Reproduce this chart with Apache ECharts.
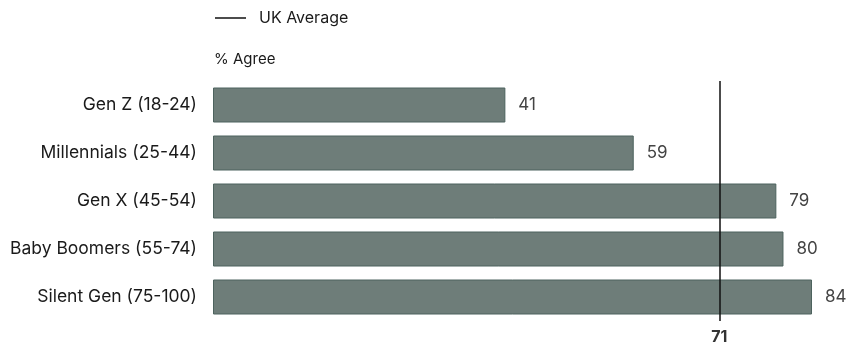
<!DOCTYPE html>
<html><head><meta charset="utf-8">
<script src="https://cdn.jsdelivr.net/npm/echarts@6/dist/echarts.min.js"></script>
<style>html,body{margin:0;padding:0;background:#fff}#c{width:848px;height:346px}</style>
</head><body><div id="c"></div>
<script>
const categories = ["Gen Z (18-24)", "Millennials (25-44)", "Gen X (45-54)", "Baby Boomers (55-74)", "Silent Gen (75-100)"];
const agreeValues = [41, 59, 79, 80, 84];
const ukAverage = 71;
const axisTickLabels = [71];

const FONT = 'Inter, "Noto Sans", sans-serif';
const chart = echarts.init(document.getElementById('c'));
chart.setOption({
  animation: false,
  textStyle: { fontFamily: FONT },
  title: {
    text: '% Agree', left: 209, top: 47,
    textStyle: { fontFamily: FONT, fontSize: 15, fontWeight: 'normal', color: '#1a1a1a' }
  },
  legend: {
    left: 215, top: 10, padding: 0, itemWidth: 31, itemHeight: 1.5, itemGap: 10,
    data: [{ name: 'UK Average', icon: 'rect' }],
    textStyle: { fontFamily: FONT, fontSize: 16, color: '#1a1a1a', padding: [0,0,0,8] }
  },
  grid: { left: 213, right: 36, top: 81, bottom: 25, containLabel: false },
  xAxis: {
    type: 'value', min: 0, max: 84,
    splitLine: { show: false }, axisLine: { show: false }, axisTick: { show: false },
    axisLabel: {
      customValues: axisTickLabels, margin: 8,
      fontFamily: FONT, fontSize: 16, fontWeight: 'bold', color: '#333'
    }
  },
  yAxis: {
    type: 'category', data: categories, inverse: true,
    axisLine: { show: false }, axisTick: { show: false },
    axisLabel: { margin: 16, fontFamily: FONT, fontSize: 17.5, color: '#1a1a1a' }
  },
  series: [
    {
      name: '% Agree', type: 'bar', data: agreeValues, barWidth: 35,
      itemStyle: { color: '#6e7d79', borderColor: '#4d635e', borderWidth: 1 },
      label: { show: true, position: 'right', distance: 13, fontFamily: FONT, fontSize: 17, color: '#444' },
      z: 2
    },
    {
      name: 'UK Average', type: 'line', data: [], symbol: 'none',
      lineStyle: { color: '#111', width: 1.5 }, itemStyle: { color: '#111' },
      markLine: {
        silent: true, symbol: 'none', label: { show: false },
        lineStyle: { color: '#111', width: 1.5, type: 'solid' },
        data: [{ xAxis: ukAverage }]
      },
      z: 5
    }
  ]
});
</script></body></html>
